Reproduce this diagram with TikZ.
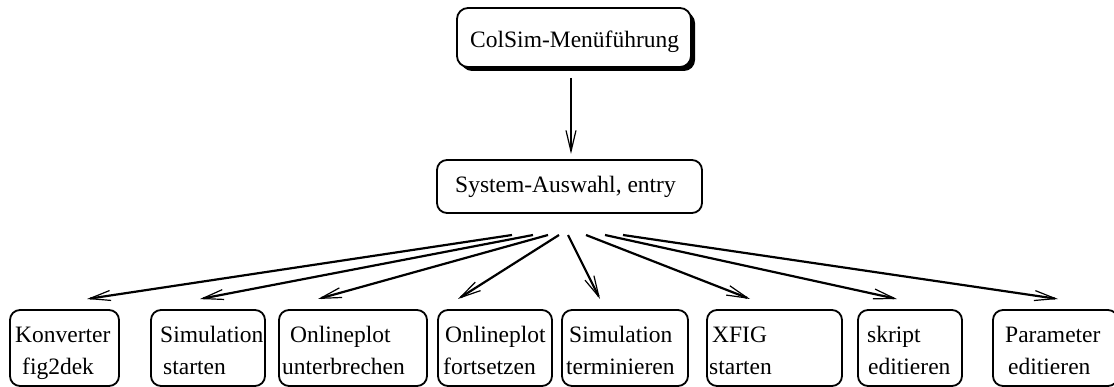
\documentclass[tikz,border=0pt]{standalone}
\usepackage{fontspec}
\setmainfont{Liberation Serif}
\usetikzlibrary{arrows.meta,shadows}
\begin{document}
\begin{tikzpicture}[x=1pt,y=-1pt,
  box/.style={draw,line width=1.8pt,rounded corners=10pt,inner sep=0pt,fill=white},
  lbl/.style={anchor=base west,inner sep=0pt,font=\fontsize{23.5}{28}\selectfont},
  conn/.style={line width=2.2pt,-{Straight Barb[length=21pt,width=10pt,line width=1.2pt]}}]
\useasboundingbox (0,0) rectangle (1114,387);

% head of the menu tree, with its shadow
\node[box,minimum width=234pt,minimum height=59pt,rounded corners=11pt,
  drop shadow={shadow xshift=4pt,shadow yshift=-4pt,fill=black,opacity=1}] (menu) at (574,37.5) {};
\node[lbl] (menut) at (470,48) {ColSim-Menüführung};

% system selection
\node[box,minimum width=265pt,minimum height=53pt] (sys) at (569.5,186.5) {};
\node[lbl] (syst) at (455,193) {System-Auswahl, entry};

% leaf boxes
\foreach \n/\cx/\w in {1/64.5/109,2/208/114,3/353/148,4/495/114,5/625/126,6/774.5/135,7/910/104,8/1055.5/125}
  \node[box,minimum width=\w pt,minimum height=76pt] (b\n) at (\cx,348) {};

\node[lbl] (t1a) at (15,342) {Konverter};
\node[lbl] (t1b) at (22,374) {fig2dek};
\node[lbl] (t2a) at (160,342) {Simulation};
\node[lbl] (t2b) at (163,374) {starten};
\node[lbl] (t3a) at (290,342) {Onlineplot};
\node[lbl] (t3b) at (282,374) {unterbrechen};
\node[lbl] (t4a) at (445,342) {Onlineplot};
\node[lbl] (t4b) at (443,374) {fortsetzen};
\node[lbl] (t5a) at (569,342) {Simulation};
\node[lbl] (t5b) at (566,374) {terminieren};
\node[lbl] (t6a) at (712,342) {XFIG};
\node[lbl] (t6b) at (709,374) {starten};
\node[lbl] (t7a) at (867,342) {skript};
\node[lbl] (t7b) at (868,374) {editieren};
\node[lbl] (t8a) at (1005,342) {Parameter};
\node[lbl] (t8b) at (1008,374) {editieren};

% connector end points
\coordinate (m0) at (571,78);
\coordinate (m1) at (571,154);
\foreach \n/\sx/\ex in {1/512/87,2/533/200,3/548/318,4/559/458,5/568/600,6/586/750,7/605/897,8/623/1058}{
  \coordinate (s\n) at (\sx,235);
  \coordinate (e\n) at (\ex,299);
}

\draw[conn] (m0) -- (m1);
\foreach \n in {1,...,8}
  \draw[conn] (s\n) -- (e\n);
\end{tikzpicture}
\end{document}
